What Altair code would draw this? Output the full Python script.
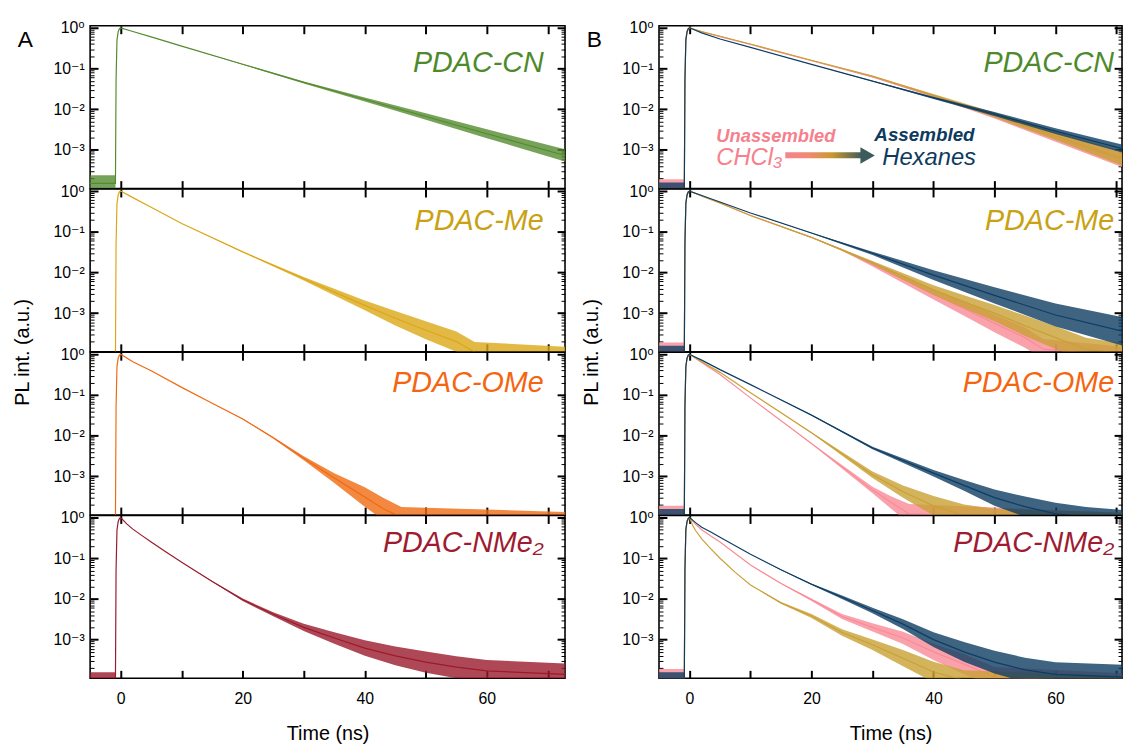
import altair as alt
import pandas as pd

FONT = "Liberation Sans, Arial, DejaVu Sans, sans-serif"

# ---------------- values ----------------
YMIN, YMAX = 10 ** -3.95, 10 ** 0.05
XDOM_A = [-5.0, 72.8]
XDOM_B = [-5.0, 70.9]

# shared rising edge of the instrument response
RISE_T = [-0.75, -0.6, -0.4, -0.2, 0.0]
RISE_V = [0.05, 0.5, 0.8, 0.95, 1.0]

# Column A (one trace per panel): time (ns), intensity, noise half-width (decades)
A_CN_T = [2, 5, 10, 20, 30, 40, 50, 60, 72.8]
A_CN_V = [0.81, 0.60, 0.355, 0.127, 0.0455, 0.0173, 0.0066, 0.0025, 0.00073]
A_CN_W = [0, 0, 0, 0.01, 0.025, 0.05, 0.08, 0.11, 0.15]

A_ME_T = [2, 5, 10, 20, 30, 40, 45, 50, 55, 58, 72.8]
A_ME_V = [0.69, 0.40, 0.16, 0.032, 0.007, 0.00155, 0.00075, 0.00038, 0.0002, 0.00011, 0.00009]
A_ME_W = [0, 0, 0, 0.01, 0.04, 0.12, 0.18, 0.22, 0.25, 0.25, 0.22]

A_OME_T = [2, 5, 10, 15, 20, 25, 30, 35, 40, 43, 46, 72.8]
A_OME_V = [0.66, 0.394, 0.154, 0.063, 0.0258, 0.0089, 0.0028, 0.00091, 0.00031, 0.00016, 0.0001, 0.00008]
A_OME_W = [0, 0, 0, 0, 0.01, 0.02, 0.05, 0.12, 0.24, 0.27, 0.25, 0.22]

A_NME_T = [1, 2, 3.5, 5, 7.5, 10, 15, 20, 25, 30, 35, 40, 45, 50, 55, 60, 72.8]
A_NME_V = [0.7, 0.52, 0.36, 0.25, 0.14, 0.08, 0.027, 0.0095, 0.0042, 0.002, 0.0011,
           0.00062, 0.0004, 0.00028, 0.00021, 0.00017, 0.00014]
A_NME_W = [0, 0, 0, 0, 0, 0, 0.01, 0.03, 0.05, 0.09, 0.14, 0.19, 0.23, 0.26, 0.27, 0.27, 0.27]

# Column B (CHCl3 pink, mixture gold, hexanes blue)
B_CN_T = [2, 5, 10, 20, 30, 40, 50, 60, 71.2]
B_CN_PINK_V = [0.8, 0.61, 0.39, 0.155, 0.062, 0.021, 0.0068, 0.002, 0.00055]
B_CN_GOLD_V = [0.81, 0.62, 0.40, 0.16, 0.065, 0.022, 0.0072, 0.0022, 0.0006]
B_CN_BLUE_V = [0.75, 0.53, 0.33, 0.126, 0.049, 0.019, 0.0076, 0.0029, 0.00105]
B_CN_PG_W = [0, 0, 0, 0, 0.01, 0.03, 0.06, 0.1, 0.18]
B_CN_BLUE_W = [0, 0, 0, 0, 0.01, 0.03, 0.05, 0.07, 0.1]

B_ME_BLUE_T = [2, 5, 10, 20, 30, 40, 50, 60, 71.2]
B_ME_BLUE_V = [0.78, 0.54, 0.29, 0.093, 0.0296, 0.0086, 0.00274, 0.0009, 0.00035]
B_ME_BLUE_W = [0, 0, 0, 0.01, 0.04, 0.12, 0.2, 0.28, 0.35]
B_ME_GOLD_T = [2, 5, 10, 20, 30, 40, 45, 50, 55, 60, 65, 71.2]
B_ME_GOLD_V = [0.76, 0.51, 0.25, 0.073, 0.0175, 0.0037, 0.0019, 0.001, 0.00049, 0.00025, 0.00013, 0.0001]
B_ME_GOLD_W = [0, 0, 0, 0.01, 0.04, 0.12, 0.16, 0.2, 0.25, 0.28, 0.28, 0.25]
B_ME_PINK_T = [2, 5, 10, 20, 25, 30, 35, 40, 45, 50, 55, 58, 71.2]
B_ME_PINK_V = [0.76, 0.51, 0.25, 0.072, 0.036, 0.0156, 0.0068, 0.0029, 0.0013, 0.00056, 0.00025, 0.00013, 0.00009]
B_ME_PINK_W = [0, 0, 0, 0.01, 0.02, 0.05, 0.09, 0.13, 0.18, 0.22, 0.25, 0.25, 0.22]

B_OME_BLUE_T = [2, 5, 10, 20, 30, 40, 45, 50, 55, 60, 65, 71.2]
B_OME_BLUE_V = [0.72, 0.42, 0.18, 0.032, 0.005, 0.0012, 0.0006, 0.0003, 0.00018, 0.00012, 0.0001, 0.00009]
B_OME_BLUE_W = [0, 0, 0, 0.01, 0.03, 0.08, 0.13, 0.2, 0.25, 0.27, 0.25, 0.22]
B_OME_GOLD_T = [2, 5, 10, 20, 30, 35, 40, 45, 50, 71.2]
B_OME_GOLD_V = [0.66, 0.36, 0.114, 0.0118, 0.0011, 0.00042, 0.00019, 0.00011, 0.00009, 0.00008]
B_OME_GOLD_W = [0, 0, 0, 0.01, 0.08, 0.15, 0.24, 0.27, 0.25, 0.2]
B_OME_PINK_T = [2, 5, 10, 20, 30, 33, 36, 71.2]
B_OME_PINK_V = [0.63, 0.32, 0.085, 0.0064, 0.00046, 0.00023, 0.00012, 0.00008]
B_OME_PINK_W = [0, 0, 0, 0.01, 0.08, 0.15, 0.24, 0.2]

B_NME_BLUE_T = [1, 2, 3.5, 5, 10, 15, 20, 25, 30, 35, 40, 45, 50, 55, 60, 71.2]
B_NME_BLUE_V = [0.75, 0.58, 0.44, 0.33, 0.125, 0.052, 0.023, 0.011, 0.0052, 0.0024, 0.001,
                0.0005, 0.00028, 0.00018, 0.00014, 0.00012]
B_NME_BLUE_W = [0, 0, 0, 0, 0, 0.01, 0.02, 0.04, 0.07, 0.12, 0.18, 0.24, 0.28, 0.3, 0.3, 0.3]
B_NME_PINK_T = [1, 2, 3.5, 5, 10, 15, 20, 25, 30, 35, 40, 45, 50, 71.2]
B_NME_PINK_V = [0.68, 0.5, 0.35, 0.25, 0.068, 0.024, 0.0095, 0.0037, 0.002, 0.0011, 0.0005,
                0.00025, 0.00012, 0.00009]
B_NME_PINK_W = [0, 0, 0, 0, 0, 0.01, 0.03, 0.06, 0.1, 0.15, 0.2, 0.25, 0.25, 0.22]
B_NME_GOLD_T = [0.5, 1, 2, 3.5, 5, 7.5, 10, 15, 20, 25, 30, 35, 40, 45, 71.2]
B_NME_GOLD_V = [0.65, 0.48, 0.3, 0.17, 0.1, 0.045, 0.022, 0.008, 0.0038, 0.0015, 0.00075,
                0.00035, 0.00016, 0.0001, 0.00008]
B_NME_GOLD_W = [0, 0, 0, 0, 0, 0, 0, 0.02, 0.05, 0.08, 0.13, 0.2, 0.25, 0.25, 0.2]

# pre-zero noise floor (centre value, half-width in decades)
FLOORS = {
    "A_CN": (1.5e-4, 0.2), "A_ME": (8e-5, 0.0), "A_OME": (8e-5, 0.0), "A_NME": (1.0e-4, 0.2),
    "B_PINK": (1.2e-4, 0.2), "B_GOLD": (8e-5, 0.0), "B_BLUE": (1.0e-4, 0.2),
}

LABELS = ["PDAC-CN", "PDAC-Me", "PDAC-OMe", "PDAC-NMe\u2082"]
LABEL_COLORS = ["#4e8a2c", "#c9a112", "#f5640f", "#9e1b32"]
LABEL_V = [0.080, 0.112, 0.118, 0.141]
LABEL_T_A, LABEL_T_B = 69.3, 69.6

COL_A = ["#558b2f", "#dca716", "#f06a12", "#9b1a2c"]
PINK, GOLD, BLUE = "#f98b97", "#c9a035", "#0e3d63"

# ---------------- helpers ----------------
PANEL_H = 164.5
W_A, W_B = 480, 468
Y_MAJOR = [1e-3, 1e-2, 1e-1, 1.0]
Y_MINOR = [k * 10.0 ** e for e in (-4, -3, -2, -1) for k in range(2, 10) if k * 10.0 ** e >= YMIN]
X_TICKS = [0, 10, 20, 30, 40, 50, 60, 70]
YS = alt.Scale(type="log", domain=[YMIN, YMAX], nice=False)
SUP = ("datum.value > 0.5 ? '10\u2070' : datum.value > 0.05 ? '10\u207b\u00b9' : "
       "datum.value > 0.005 ? '10\u207b\u00b2' : '10\u207b\u00b3'")


def xs(dom):
    return alt.Scale(domain=dom, nice=False, zero=False)


def series_df(t, v, w, floor):
    f, fw = floor
    tt = [-5.0, -0.85] + RISE_T + list(t)
    vv = [f, f] + RISE_V + list(v)
    ww = [fw, fw] + [0.0] * len(RISE_T) + list(w)
    return pd.DataFrame({
        "t": tt, "v": vv,
        "lo": [a * 10 ** (-b) for a, b in zip(vv, ww)],
        "hi": [a * 10 ** b for a, b in zip(vv, ww)],
    })


def trace_layers(df, color, dom):
    band = alt.Chart(df).mark_area(clip=True, color=color, opacity=0.8).encode(
        x=alt.X("t:Q", scale=xs(dom), axis=None),
        y=alt.Y("lo:Q", scale=YS, axis=None), y2="hi:Q")
    line = alt.Chart(df).mark_line(clip=True, color=color, strokeWidth=1.2).encode(
        x=alt.X("t:Q", scale=xs(dom), axis=None),
        y=alt.Y("v:Q", scale=YS, axis=None))
    return [band, line]


def tick_axis_x(orient):
    return alt.Axis(orient=orient, values=X_TICKS, labels=False, domain=False, grid=False,
                    tickSize={"expr": "-8"}, tickWidth=2, tickColor="black", title=None)


def tick_axis_y(orient, vals, size, width):
    return alt.Axis(orient=orient, values=vals, labels=False, domain=False, grid=False,
                    tickSize={"expr": "-%d" % size}, tickWidth=width, tickColor="black", title=None)


DUMMY = pd.DataFrame({"t": [0.0], "v": [1.0]})


def axis_layers(dom, bottom, ytitle):
    def enc(xa, ya):
        return alt.Chart(DUMMY).mark_point(opacity=0).encode(
            x=alt.X("t:Q", scale=xs(dom), axis=xa),
            y=alt.Y("v:Q", scale=YS, axis=ya))
    if bottom:
        xlab = alt.Axis(orient="bottom", values=[0, 20, 40, 60], ticks=False, domain=False,
                        grid=False, labelFontSize=16, labelPadding=13, labelColor="black",
                        title="Time (ns)", titleFontSize=20, titleFontWeight="normal",
                        titlePadding=17, titleColor="black")
    else:
        xlab = None
    ykw = dict(orient="left", values=Y_MAJOR, ticks=False, domain=False, grid=False,
               labelExpr=SUP, labelFontSize=16, labelPadding=6, labelColor="black")
    if ytitle:
        ylab = alt.Axis(title="PL int. (a.u.)", titleFontSize=20, titleFontWeight="normal",
                        titleColor="black", titleAngle=270, titleAlign="center",
                        titleBaseline="middle", titleX=-68, titleY=PANEL_H, **ykw)
    else:
        ylab = alt.Axis(title=None, **ykw)
    return [
        enc(xlab, ylab),
        enc(tick_axis_x("bottom"), tick_axis_y("left", Y_MAJOR, 8, 2)),
        enc(tick_axis_x("top"), tick_axis_y("left", Y_MINOR, 4, 1)),
        enc(None, tick_axis_y("right", Y_MAJOR, 8, 2)),
        enc(None, tick_axis_y("right", Y_MINOR, 4, 1)),
    ]


def text_layer(df, dom, **kw):
    return alt.Chart(df).mark_text(font=FONT, **kw).encode(
        x=alt.X("t:Q", scale=xs(dom), axis=None),
        y=alt.Y("v:Q", scale=YS, axis=None),
        text="s:N")


def panel(idx, traces, dom, width, label_t, letter):
    layers = []
    for df, color in traces:
        layers += trace_layers(df, color, dom)
    layers.append(text_layer(pd.DataFrame({"t": [label_t], "v": [LABEL_V[idx]], "s": [LABELS[idx]]}),
                             dom, align="right", baseline="alphabetic", fontSize=29,
                             fontStyle="italic", color=LABEL_COLORS[idx]))
    if letter:
        layers.append(text_layer(pd.DataFrame({"t": [-15.6], "v": [0.51], "s": [letter]}),
                                 dom, align="center", baseline="middle", fontSize=23, color="black"))
    if letter == "B":
        layers.append(text_layer(pd.DataFrame({"t": [4.4], "v": [1.6e-3], "s": ["Unassembled"]}),
                                 dom, align="left", baseline="alphabetic", fontSize=18.5,
                                 fontStyle="italic", fontWeight="bold", color="#f6808c"))
        layers.append(text_layer(pd.DataFrame({"t": [4.4], "v": [4.2e-4], "s": ["CHCl\u2083"]}),
                                 dom, align="left", baseline="alphabetic", fontSize=24,
                                 fontStyle="italic", color="#f6808c"))
        layers.append(text_layer(pd.DataFrame({"t": [30.3], "v": [1.63e-3], "s": ["Assembled"]}),
                                 dom, align="left", baseline="alphabetic", fontSize=19,
                                 fontStyle="italic", fontWeight="bold", color="#0d3a5e"))
        layers.append(text_layer(pd.DataFrame({"t": [31.6], "v": [4.2e-4], "s": ["Hexanes"]}),
                                 dom, align="left", baseline="alphabetic", fontSize=24,
                                 fontStyle="italic", color="#0d3a5e"))
        grad = alt.Gradient(gradient="linear", x1=0, x2=1, y1=0, y2=0, stops=[
            alt.GradientStop(color="#f6838e", offset=0.0),
            alt.GradientStop(color="#f08a70", offset=0.3),
            alt.GradientStop(color="#c99a30", offset=0.6),
            alt.GradientStop(color="#3d5a5c", offset=1.0)])
        layers.append(alt.Chart(pd.DataFrame({"t": [15.7], "t2": [28.4], "v": [8.7e-4], "v2": [6.2e-4]}))
                      .mark_rect(fill=grad).encode(
                          x=alt.X("t:Q", scale=xs(dom), axis=None), x2="t2:Q",
                          y=alt.Y("v:Q", scale=YS, axis=None), y2="v2:Q"))
        layers.append(alt.Chart(pd.DataFrame({"t": [29.2], "v": [7.3e-4]}))
                      .mark_point(shape="triangle-right", filled=True, size=280, opacity=1,
                                  color="#3d5a5c").encode(
                          x=alt.X("t:Q", scale=xs(dom), axis=None),
                          y=alt.Y("v:Q", scale=YS, axis=None)))
    layers += axis_layers(dom, idx == 3, idx == 1)
    return alt.layer(*layers).resolve_axis(x="independent", y="independent").properties(
        width=width, height=PANEL_H)


# ---------------- assemble ----------------
A_SPECS = [(A_CN_T, A_CN_V, A_CN_W, "A_CN"), (A_ME_T, A_ME_V, A_ME_W, "A_ME"),
           (A_OME_T, A_OME_V, A_OME_W, "A_OME"), (A_NME_T, A_NME_V, A_NME_W, "A_NME")]
col_a = []
for i, (t, v, w, key) in enumerate(A_SPECS):
    df = series_df(t, v, w, FLOORS[key])
    col_a.append(panel(i, [(df, COL_A[i])], XDOM_A, W_A, LABEL_T_A, "A" if i == 0 else None))

B_SPECS = [
    [(B_CN_T, B_CN_PINK_V, B_CN_PG_W, "B_PINK", PINK), (B_CN_T, B_CN_GOLD_V, B_CN_PG_W, "B_GOLD", GOLD),
     (B_CN_T, B_CN_BLUE_V, B_CN_BLUE_W, "B_BLUE", BLUE)],
    [(B_ME_PINK_T, B_ME_PINK_V, B_ME_PINK_W, "B_PINK", PINK), (B_ME_GOLD_T, B_ME_GOLD_V, B_ME_GOLD_W, "B_GOLD", GOLD),
     (B_ME_BLUE_T, B_ME_BLUE_V, B_ME_BLUE_W, "B_BLUE", BLUE)],
    [(B_OME_PINK_T, B_OME_PINK_V, B_OME_PINK_W, "B_PINK", PINK), (B_OME_GOLD_T, B_OME_GOLD_V, B_OME_GOLD_W, "B_GOLD", GOLD),
     (B_OME_BLUE_T, B_OME_BLUE_V, B_OME_BLUE_W, "B_BLUE", BLUE)],
    [(B_NME_PINK_T, B_NME_PINK_V, B_NME_PINK_W, "B_PINK", PINK), (B_NME_GOLD_T, B_NME_GOLD_V, B_NME_GOLD_W, "B_GOLD", GOLD),
     (B_NME_BLUE_T, B_NME_BLUE_V, B_NME_BLUE_W, "B_BLUE", BLUE)],
]
col_b = []
for i, specs in enumerate(B_SPECS):
    traces = [(series_df(t, v, w, FLOORS[k]), c) for (t, v, w, k, c) in specs]
    col_b.append(panel(i, traces, XDOM_B, W_B, LABEL_T_B, "B" if i == 0 else None))

cells = []
for a, b in zip(col_a, col_b):
    cells += [a, b]

chart = alt.concat(*cells, columns=2, spacing={"row": 0, "column": 95}, bounds="flush").properties(
    padding={"left": 4, "top": 7, "right": 0, "bottom": 0}
).configure(font=FONT).configure_view(stroke="black", strokeWidth=1.6).configure_axis(
    labelFont=FONT, titleFont=FONT)

chart.save("out.html", embed_options={"renderer": "svg", "actions": False})
